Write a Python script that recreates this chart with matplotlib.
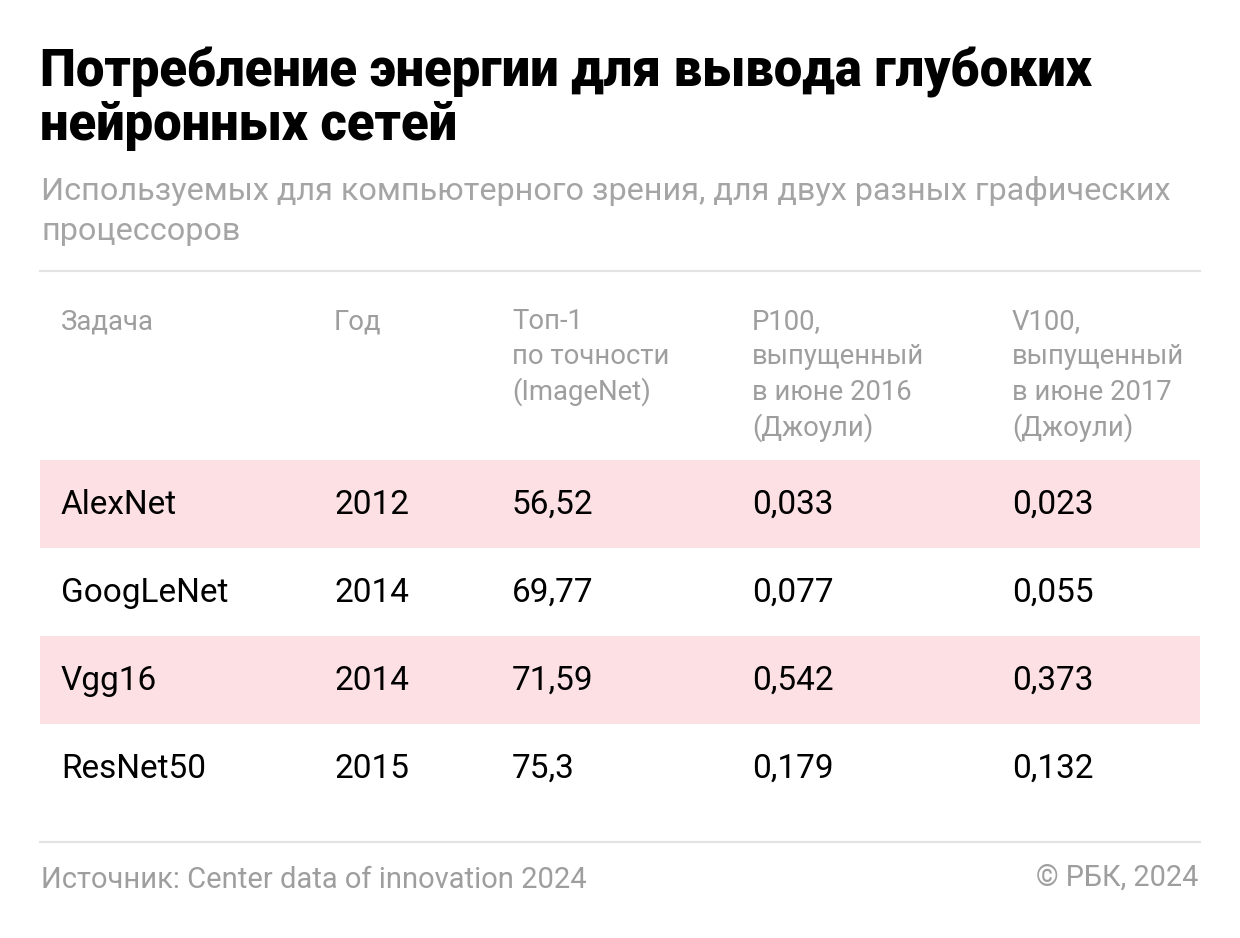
import matplotlib
matplotlib.use("Agg")
from matplotlib import pyplot as plt
from matplotlib.patches import Rectangle

plt.rcParams['font.family'] = ['Roboto', 'DejaVu Sans']

# table contents
title = ["Потребление энергии для вывода глубоких", "нейронных сетей"]
subtitle = ["Используемых для компьютерного зрения, для двух разных графических",
            "процессоров"]
headers = [["Задача"], ["Год"], ["Топ-1", "по точности", "(ImageNet)"],
           ["P100,", "выпущенный", "в июне 2016", "(Джоули)"],
           ["V100,", "выпущенный", "в июне 2017", "(Джоули)"]]
models = ["AlexNet", "GoogLeNet", "Vgg16", "ResNet50"]
years = [2012, 2014, 2014, 2015]
top1 = ["56,52", "69,77", "71,59", "75,3"]
p100 = ["0,033", "0,077", "0,542", "0,179"]
v100 = ["0,023", "0,055", "0,373", "0,132"]
source = "Источник: Center data of innovation 2024"
credit = "© РБК, 2024"

W, H = 1240, 938
fig = plt.figure(figsize=(W / 100, H / 100), dpi=100)
ax = fig.add_axes([0, 0, 1, 1])
ax.set_xlim(0, W)
ax.set_ylim(H, 0)
ax.axis('off')

grey = '#9e9e9e'
line_c = '#e3e3e3'
pink = '#fde0e4'

for i, t in enumerate(title):
    ax.text(40, 87 + i * 53, t, fontsize=36.5, fontweight='black',
            color='black', va='baseline')
for i, t in enumerate(subtitle):
    ax.text(41, 200 + i * 40, t, fontsize=23.3, color='#a5a5a5', va='baseline')

ax.plot([40, 1200], [271, 271], color=line_c, lw=1.5)
ax.plot([40, 1200], [842, 842], color=line_c, lw=1.5)

col_x = [61, 334, 512, 752, 1012]
for x, h in zip(col_x, headers):
    for j, line in enumerate(h):
        ax.text(x, 329 + j * 35.5, line, fontsize=19.8, color=grey,
                va='baseline')

row_top = 460
row_h = 88
rows = list(zip(models, years, top1, p100, v100))
for i, row in enumerate(rows):
    y0 = row_top + i * row_h
    if i % 2 == 0:
        ax.add_patch(Rectangle((40, y0), 1160, row_h, color=pink, lw=0))
    for x, val in zip(col_x, row):
        ax.text(x, y0 + row_h / 2 + 1, str(val), fontsize=24, color='black',
                va='center')

ax.text(41, 880, source, fontsize=21, color=grey, va='center')
ax.text(1198, 878, credit, fontsize=20.8, color=grey, va='center', ha='right')

fig.savefig("out.png", dpi=100)
